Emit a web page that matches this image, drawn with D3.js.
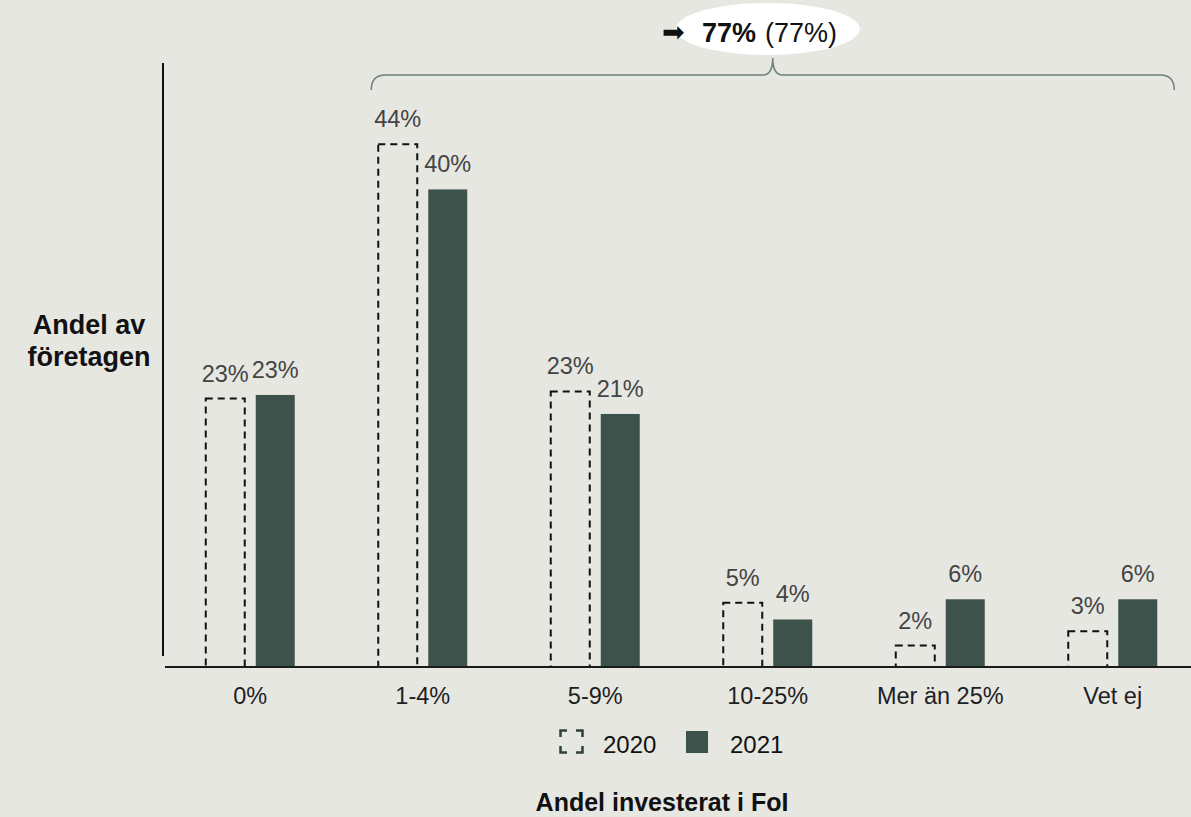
<!DOCTYPE html>
<html>
<head>
<meta charset="utf-8">
<script src="https://cdn.jsdelivr.net/npm/d3@7"></script>
<style>
  html, body { margin: 0; padding: 0; background: #e7e7e2; }
  svg { display: block; font-family: Arial, "Liberation Sans", sans-serif; }
</style>
</head>
<body>
<svg id="chart" width="1191" height="817"></svg>
<script>
// ---- data ----
const categories = ["0%", "1-4%", "5-9%", "10-25%", "Mer än 25%", "Vet ej"];
const seriesNames = ["2020", "2021"];
const values2020 = [22.6, 44.0, 23.2, 5.4, 1.8, 3.0];
const values2021 = [22.9, 40.2, 21.3, 4.0, 5.7, 5.7];
const labels2020 = ["23%", "44%", "23%", "5%", "2%", "3%"];
const labels2021 = ["23%", "40%", "21%", "4%", "6%", "6%"];
const bracketFrom = "1-4%";
const bracketTo = "Vet ej";
const bracketMain = "77%";
const bracketPrev = "(77%)";
const yTitleLines = ["Andel av", "företagen"];
const xTitle = "Andel investerat i FoI";

// ---- setup ----
const svg = d3.select("#chart");
const W = 1191, H = 817;
const BG = "#e7e7e2", DARK = "#3c524b", BRACE = "#6e8279";
svg.append("rect").attr("width", W).attr("height", H).attr("fill", BG);

const x = d3.scaleBand().domain(categories).range([164, 1199]).padding(0);
const x1 = d3.scaleBand().domain(seriesNames)
  .range([x.bandwidth() / 2 - 44.5, x.bandwidth() / 2 + 44.5]).paddingInner(0.22);
const y = d3.scaleLinear().domain([0, 50]).range([667, 73]);

const rows = categories.map((c, i) => ({
  cat: c,
  items: [
    { s: "2020", v: values2020[i], l: labels2020[i] },
    { s: "2021", v: values2021[i], l: labels2021[i] }
  ]
}));

// ---- axes ----
svg.append("line").attr("x1", 163).attr("x2", 163).attr("y1", 63).attr("y2", 656)
  .attr("stroke", "#111").attr("stroke-width", 2);

const g = svg.append("g");
const groups = g.selectAll("g.grp").data(rows).join("g")
  .attr("class", "grp")
  .attr("transform", d => `translate(${x(d.cat)},0)`);

// 2021 filled bars
groups.selectAll("rect.b21").data(d => d.items.filter(it => it.s === "2021")).join("rect")
  .attr("class", "b21")
  .attr("x", d => x1(d.s)).attr("width", x1.bandwidth())
  .attr("y", d => y(d.v)).attr("height", d => y(0) - y(d.v))
  .attr("fill", DARK);

// 2020 dashed outline bars
groups.selectAll("rect.b20").data(d => d.items.filter(it => it.s === "2020")).join("rect")
  .attr("class", "b20")
  .attr("x", d => x1(d.s)).attr("width", x1.bandwidth())
  .attr("y", d => y(d.v)).attr("height", d => y(0) - y(d.v))
  .attr("fill", "none").attr("stroke", "#111").attr("stroke-width", 2)
  .attr("stroke-dasharray", "7,5");

// value labels
groups.selectAll("text.val").data(d => d.items).join("text")
  .attr("class", "val")
  .attr("x", d => x1(d.s) + x1.bandwidth() / 2)
  .attr("y", d => y(d.v) - 17)
  .attr("text-anchor", "middle")
  .attr("font-size", 23.5)
  .attr("fill", "#444")
  .text(d => d.l);

// x axis
const xAxis = d3.axisBottom(x).tickSize(0).tickPadding(20);
const ax = svg.append("g").attr("transform", `translate(0,667)`).call(xAxis);
ax.select(".domain").remove();
ax.selectAll("text").attr("font-size", 23.5).attr("fill", "#1e1e1e")
  .attr("font-family", "Arial, 'Liberation Sans', sans-serif");
svg.append("line").attr("x1", 165).attr("x2", W).attr("y1", 667).attr("y2", 667)
  .attr("stroke", "#1a1a1a").attr("stroke-width", 2);

// ---- bracket ----
const bx0 = x(bracketFrom) + x1("2020") - 7;
const bx1 = x(bracketTo) + x1("2021") + x1.bandwidth() + 17;
const bm = (bx0 + bx1) / 2;
const by = 75, bTop = 58, bEnd = 90, r = 14;
svg.append("path")
  .attr("d", `M${bx0},${bEnd} Q${bx0},${by} ${bx0 + r},${by} L${bm - 10},${by} Q${bm},${by} ${bm},${bTop}
              Q${bm},${by} ${bm + 10},${by} L${bx1 - r},${by} Q${bx1},${by} ${bx1},${bEnd}`)
  .attr("fill", "none").attr("stroke", BRACE).attr("stroke-width", 1.6);

svg.append("ellipse").attr("cx", bm - 5).attr("cy", 29).attr("rx", 92).attr("ry", 26)
  .attr("fill", "#ffffff");
const ann = svg.append("text").attr("x", 662).attr("y", 42).attr("font-size", 27).attr("fill", "#111");
ann.append("tspan").attr("font-family", "'DejaVu Sans', sans-serif").attr("font-size", 27).attr("dy", -1).text("➡");
ann.append("tspan").attr("x", 702).attr("dy", 1).attr("font-weight", "bold").text(bracketMain);
ann.append("tspan").attr("x", 765).text(bracketPrev);

// ---- titles ----
const yt = svg.append("text").attr("text-anchor", "middle").attr("font-size", 27)
  .attr("font-weight", "bold").attr("fill", "#111");
yTitleLines.forEach((t, i) => {
  yt.append("tspan").attr("x", 89).attr("y", 334 + i * 32).text(t);
});
svg.append("text").attr("x", 662).attr("y", 811).attr("text-anchor", "middle")
  .attr("font-size", 25).attr("font-weight", "bold").attr("fill", "#111").text(xTitle);

// ---- legend ----
const leg = svg.append("g").attr("transform", "translate(560,730)");
leg.append("rect").attr("x", 0.5).attr("y", 0.5).attr("width", 22).attr("height", 22)
  .attr("fill", "none").attr("stroke", "#2f3f39").attr("stroke-width", 2.5)
  .attr("stroke-dasharray", "13,9").attr("stroke-dashoffset", 6.5);
leg.append("text").attr("x", 43).attr("y", 23).attr("font-size", 24).attr("fill", "#111").text(seriesNames[0]);
leg.append("rect").attr("x", 126).attr("y", 1).attr("width", 22).attr("height", 22).attr("fill", DARK);
leg.append("text").attr("x", 170).attr("y", 23).attr("font-size", 24).attr("fill", "#111").text(seriesNames[1]);
</script>
</body>
</html>
